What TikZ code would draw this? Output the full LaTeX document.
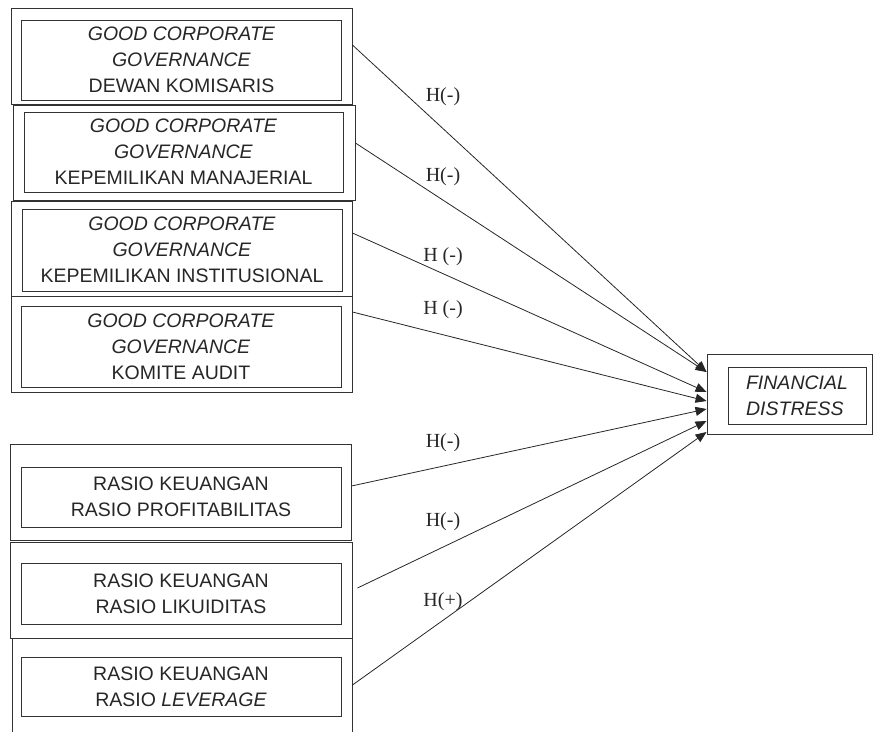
\documentclass[tikz,border=0pt]{standalone}
\usepackage{fontspec}
\setmainfont{Liberation Serif}
\setsansfont{Liberation Sans}
\usetikzlibrary{arrows.meta}

\tikzset{
  outbox/.style={draw=black!80, line width=0.9pt, inner sep=0pt, minimum width=341pt, minimum height=#1},
  outbox/.default=96pt,
  inbox/.style={draw=black!80, line width=0.9pt, inner sep=0pt, minimum width=320pt, minimum height=#1,
    align=center, text=black!85, font=\sffamily\fontsize{19.5}{26}\selectfont},
  hyp/.style={-{Triangle[length=11pt,width=9pt]}, line width=0.8pt, draw=black!85},
  hlabel/.style={text=black!85, font=\fontsize{20}{24}\selectfont}
}

\begin{document}
\begin{tikzpicture}[x=1pt, y=-1pt]
    \useasboundingbox (0,0) rectangle (875,731);

    % variabel good corporate governance
    \node[outbox] (dko) at (181.5,56) {};
    \node[inbox=80pt] (dk) at (181.5,60) {\textit{GOOD CORPORATE}\\\textit{GOVERNANCE}\\DEWAN KOMISARIS};
    \node[outbox=95pt, minimum width=342pt] (kmo) at (184,152.5) {};
    \node[inbox=80pt, minimum width=319pt] (km) at (183.5,152) {\textit{GOOD CORPORATE}\\\textit{GOVERNANCE}\\KEPEMILIKAN MANAJERIAL};
    \node[outbox=95pt] (kio) at (181.5,248.5) {};
    \node[inbox=82pt] (ki) at (182,250) {\textit{GOOD CORPORATE}\\\textit{GOVERNANCE}\\KEPEMILIKAN INSTITUSIONAL};
    \node[outbox] (kao) at (181.5,344) {};
    \node[inbox=81pt] (ka) at (181,346.5) {\textit{GOOD CORPORATE}\\\textit{GOVERNANCE}\\KOMITE AUDIT};

    % variabel rasio keuangan
    \node[outbox] (rpo) at (180.5,492) {};
    \node[inbox=60pt] (rp) at (181,497) {RASIO KEUANGAN\\RASIO PROFITABILITAS};
    \node[outbox, minimum width=342pt] (rlo) at (181,590) {};
    \node[inbox=61pt] (rl) at (181,593.5) {RASIO KEUANGAN\\RASIO LIKUIDITAS};
    \node[outbox=97pt, minimum width=340pt] (rvo) at (182,686.5) {};
    \node[inbox=59pt] (rv) at (181,686.5) {RASIO KEUANGAN\\RASIO \textit{LEVERAGE}};

    % variabel dependen
    \node[outbox=80pt, minimum width=165pt] (fdo) at (789.5,394) {};
    \node[inbox=57pt, minimum width=138pt, align=left] (fd) at (797,395.5) {\textit{FINANCIAL}\\\textit{DISTRESS}};

    % hipotesis
    \draw[hyp] ([yshift=11pt]dko.east) -- ([yshift=22pt]fdo.west);
    \draw[hyp] ([yshift=9.5pt]kmo.east) -- ([yshift=22pt]fdo.west);
    \draw[hyp] ([yshift=15.5pt]kio.east) -- ([yshift=2pt]fdo.west);
    \draw[hyp] ([yshift=32pt]kao.east) -- ([yshift=-7pt]fdo.west);
    \draw[hyp] ([yshift=6pt]rpo.east) -- ([yshift=-15pt]fdo.west);
    \draw[hyp] ([xshift=5pt,yshift=2pt]rlo.east) -- ([yshift=-27pt]fdo.west);
    \draw[hyp] ([yshift=1.5pt]rvo.east) -- ([yshift=-38pt]fdo.west);

    \node[hlabel] (h1) at (443,97) {H(-)};
    \node[hlabel] (h2) at (443,177) {H(-)};
    \node[hlabel] (h3) at (443,257) {H (-)};
    \node[hlabel] (h4) at (443,310) {H (-)};
    \node[hlabel] (h5) at (443,443) {H(-)};
    \node[hlabel] (h6) at (443,522) {H(-)};
    \node[hlabel] (h7) at (443,602) {H(+)};
\end{tikzpicture}
\end{document}
